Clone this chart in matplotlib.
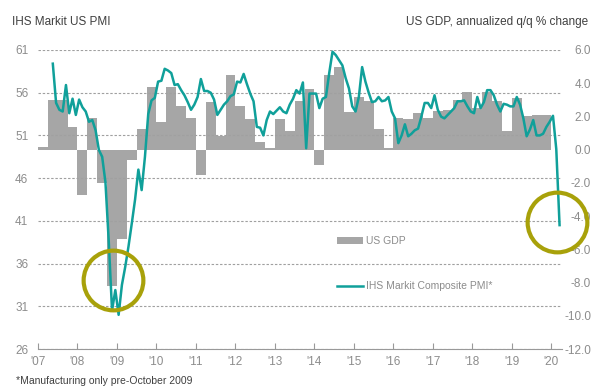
import matplotlib
matplotlib.use("Agg")
import matplotlib.pyplot as plt
import numpy as np

plt.rcParams["font.family"] = ["Liberation Sans", "DejaVu Sans"]

# US GDP, annualized q/q % change, 2007 Q1 .. 2019 Q4
gdp = [0.15, 3.0, 3.0, 1.35,
       -2.7, 1.9, -2.0, -8.2,
       -5.4, -0.6, 1.25, 3.8,
       1.65, 3.8, 2.65, 1.9,
       -1.5, 2.85, 0.8, 4.5,
       2.65, 1.85, 0.45, 0.1,
       1.85, 1.1, 2.95, 3.65,
       -0.95, 4.5, 4.95, 2.25,
       3.15, 2.95, 1.25, 0.1,
       1.9, 1.85, 2.2, 1.9,
       2.3, 2.4, 3.0, 3.45,
       2.5, 3.5, 2.9, 1.1,
       3.1, 2.0, 2.1, 2.1]
gdp_start = 2007

# IHS Markit composite PMI (manufacturing before Oct 2009), May 2007 .. Mar 2020
pmi = [59.4, 54.8, 54.0, 53.8, 56.9, 53.6, 55.3, 53.4,                          # 2007
       55.2, 54.3, 53.8, 52.6, 52.8, 51.6, 49.3, 48.5, 45.5, 38.6, 30.5, 32.9,  # 2008
       30.0, 33.5, 35.6, 38.0, 40.7, 43.5, 47.0, 44.6, 48.5, 53.5, 55.1, 55.4,  # 2009
       57.3, 57.4, 58.8, 58.6, 58.3, 56.9, 57.0, 56.3, 55.7, 54.9, 54.0, 54.6,  # 2010
       55.5, 57.6, 56.2, 56.2, 56.0, 55.2, 53.4, 54.0, 54.6, 55.0, 55.6, 55.8,  # 2011
       57.3, 57.2, 58.2, 57.0, 55.9, 55.0, 52.0, 51.9, 51.0, 52.8, 53.8, 53.5,  # 2012
       53.9, 54.3, 53.8, 53.6, 54.6, 55.3, 56.3, 55.9, 57.2, 49.5, 55.9, 55.9,  # 2013
       55.9, 54.2, 55.3, 55.5, 58.3, 60.8, 60.4, 59.8, 59.2, 57.7, 56.5, 54.4,  # 2014
       53.8, 55.5, 59.0, 57.3, 56.0, 54.9, 55.0, 55.5, 55.0, 55.1, 55.5, 53.8,  # 2015
       53.0, 50.1, 51.0, 52.3, 50.9, 51.2, 51.6, 51.8, 53.2, 54.8, 54.8, 54.2,  # 2016
       55.7, 54.0, 53.2, 53.0, 53.4, 53.8, 54.2, 55.0, 55.0, 55.1, 54.4, 53.8,  # 2017
       53.6, 55.5, 54.2, 54.9, 56.3, 56.3, 55.7, 54.6, 53.8, 54.7, 54.6, 54.4,  # 2018
       54.4, 55.5, 54.6, 53.0, 50.9, 51.7, 52.8, 51.0, 51.0, 51.2, 52.0, 52.6,  # 2019
       53.3, 49.4, 40.5]                                                        # 2020
pmi_start = (2007, 5)

years = list(range(2007, 2021))
year_labels = ["'%02d" % (y % 100) for y in years]
pmi_ticks = [26, 31, 36, 41, 46, 51, 56, 61]
gdp_ticks = [-12, -10, -8, -6, -4, -2, 0, 2, 4, 6]

# highlighted points (x in years, PMI level)
highlights_x = [2008.9, 2020.14]
highlights_y = [34.1, 40.9]

GREY = "#a6a6a6"
TEAL = "#10a09a"
OLIVE = "#a8a10a"
LABEL = "#8c8c8c"

gdp_x = gdp_start + (np.arange(len(gdp)) + 0.5) / 4
pmi_x = pmi_start[0] + (pmi_start[1] - 1 + np.arange(len(pmi)) + 0.5) / 12

fig = plt.figure(figsize=(6.01, 3.88), dpi=100)
ax = fig.add_axes([38 / 601, 39 / 388, 524 / 601, 299 / 388])
ax2 = ax.twinx()

# GDP bars on the host axes (right-hand scale)
ax.bar(gdp_x, gdp, width=0.25, color=GREY, linewidth=0, zorder=1, label="US GDP")
ax.set_ylim(-12, 6)
ax.set_yticks(gdp_ticks)
ax.set_yticklabels(["%.1f" % v for v in gdp_ticks])
ax.yaxis.tick_right()
ax.tick_params(axis="y", length=0, pad=21, labelsize=8.5, labelcolor=LABEL)
for lbl in ax.get_yticklabels():
    lbl.set_horizontalalignment("right")

# PMI line on the twin (left-hand scale)
ax2.plot(pmi_x, pmi, color=TEAL, lw=1.8, zorder=3, label="IHS Markit Composite PMI*")
ax2.set_ylim(26, 61)
ax2.set_yticks(pmi_ticks)
ax2.yaxis.tick_left()
ax2.tick_params(axis="y", length=0, pad=7, labelsize=8.5, labelcolor=LABEL)
ax2.grid(axis="y", color="#a0a0a0", lw=0.8, linestyle=(0, (2.2, 1.6)), zorder=0)
ax2.set_axisbelow(True)

ax2.plot(highlights_x, highlights_y, "o", ms=43, mfc="none", mec=OLIVE, mew=3,
         zorder=4, clip_on=False)

ax.set_xlim(2007, 2020.27)
ax.set_xticks(years)
ax.set_xticklabels(year_labels)
ax.tick_params(axis="x", direction="in", length=4, color="#999999", pad=5,
               labelsize=8.5, labelcolor=LABEL)
ax2.tick_params(axis="x", bottom=False, labelbottom=False)

for a in (ax, ax2):
    for s in ("top", "left", "right"):
        a.spines[s].set_visible(False)
    a.spines["bottom"].set_color("#999999")
ax2.spines["bottom"].set_visible(False)

h1, l1 = ax.get_legend_handles_labels()
h2, l2 = ax2.get_legend_handles_labels()
ax2.legend(h1 + h2, l1 + l2, loc="upper left", bbox_to_anchor=(337 / 601, 1 - 236 / 388),
           bbox_transform=fig.transFigure, frameon=False, fontsize=7.5,
           labelcolor="#8c8c8c", handlelength=2.5, handletextpad=0.25,
           labelspacing=3.4, borderpad=0, borderaxespad=0)

fig.text(12 / 601, 1 - 22 / 388, "IHS Markit US PMI", fontsize=8.5, color="#404040",
         va="center", ha="left")
fig.text(588 / 601, 1 - 22 / 388, "US GDP, annualized q/q % change", fontsize=8.5,
         color="#404040", va="center", ha="right")
fig.text(16 / 601, 1 - 381 / 388, "*Manufacturing only pre-October 2009", fontsize=7.5,
         color="#404040", va="center", ha="left")

fig.savefig("out.png", dpi=100, facecolor="white")
